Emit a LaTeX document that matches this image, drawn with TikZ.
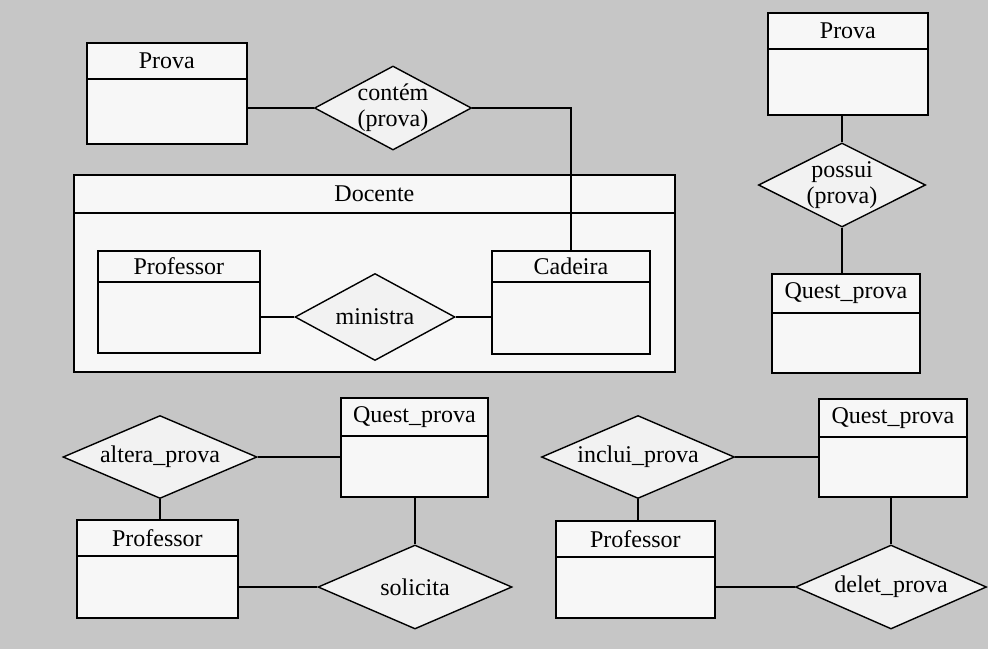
\documentclass[tikz,border=0pt]{standalone}
\usepackage{fontspec}
\setmainfont{Liberation Serif}
\usepackage{xcolor}
\usepackage{tikz}
\usetikzlibrary{shapes.geometric}

\definecolor{fundo}{RGB}{198,198,198}
\definecolor{caixa}{RGB}{247,247,247}
\definecolor{losango}{RGB}{242,242,242}

\tikzset{
  texto/.style={font=\fontsize{24}{26}\selectfont, align=center, inner sep=0pt},
  entity/.style={draw, line width=1.8pt, fill=caixa, inner sep=0pt,
    font=\fontsize{24}{26}\selectfont},
  relacao/.style={draw, diamond, line width=1.4pt, fill=losango, inner sep=0pt,
    label={[texto]center:{#1}}},
  liga/.style={line width=1.8pt}
}

% name, left, top, right, header, bottom, label
\newcommand{\entidade}[7]{%
  \node[entity, anchor=north west, minimum width={#4-#2}, minimum height={#6-#3}] (#1) at (#2,#3) {};
  \node[entity, anchor=north west, minimum width={#4-#2}, minimum height={#5-#3}] (#1-h) at (#2,#3) {#7};
}

\begin{document}
\begin{tikzpicture}[x=1pt,y=-1pt]
    \fill[fundo] (0,0) rectangle (988,649);
    \useasboundingbox (0,0) rectangle (988,649);
    % Draw the Docente aggregate
    \entidade{docente}{73}{174}{674}{212}{371}{Docente}
    \entidade{prof1}{97}{250}{259}{281}{352}{Professor}
    \entidade{cadeira}{491}{250}{649}{281}{353}{Cadeira}
    \node[relacao={ministra}, minimum width=160pt, minimum height=87pt] (ministra) at (375,317) {};
    \draw[liga] (ministra.west) -- (ministra.west -| prof1.east);
    \draw[liga] (ministra.east) -- (ministra.east -| cadeira.west);
    % Draw the top left part
    \entidade{prova1}{86}{42}{246}{78}{143}{Prova}
    \node[relacao={contém\\(prova)}, minimum width=157pt, minimum height=84pt] (contem) at (393,108) {};
    \draw[liga] (contem.west) -- (contem.west -| prova1.east);
    \draw[liga] (contem.east) -- (contem.east -| cadeira.north) -- (cadeira.north);
    % Draw the top right part
    \entidade{prova2}{767}{12}{927}{48}{114}{Prova}
    \entidade{quest1}{771}{273}{919}{312}{372}{Quest\_prova}
    \node[relacao={possui\\(prova)}, minimum width=167pt, minimum height=84pt] (possui) at (842,185) {};
    \draw[liga] (possui.north) -- (possui.north |- prova2.south);
    \draw[liga] (possui.south) -- (possui.south |- quest1.north);
    % Draw the bottom left part
    \entidade{quest2}{340}{397}{487}{435}{496}{Quest\_prova}
    \entidade{prof2}{76}{519}{237}{555}{617}{Professor}
    \node[relacao={altera\_prova}, minimum width=194pt, minimum height=83pt] (altera) at (160,457) {};
    \node[relacao={solicita}, minimum width=194pt, minimum height=84pt] (solicita) at (415,587) {};
    \draw[liga] (altera.east) -- (altera.east -| quest2.west);
    \draw[liga] (altera.south) -- (altera.south |- prof2.north);
    \draw[liga] (solicita.north) -- (solicita.north |- quest2.south);
    \draw[liga] (solicita.west) -- (solicita.west -| prof2.east);
    % Draw the bottom right part
    \entidade{quest3}{818}{398}{966}{436}{496}{Quest\_prova}
    \entidade{prof3}{555}{520}{714}{556}{617}{Professor}
    \node[relacao={inclui\_prova}, minimum width=193pt, minimum height=83pt] (inclui) at (638,457) {};
    \node[relacao={delet\_prova}, minimum width=191pt, minimum height=84pt] (delet) at (891,587) {};
    \draw[liga] (inclui.east) -- (inclui.east -| quest3.west);
    \draw[liga] (inclui.south) -- (inclui.south |- prof3.north);
    \draw[liga] (delet.north) -- (delet.north |- quest3.south);
    \draw[liga] (delet.west) -- (delet.west -| prof3.east);
\end{tikzpicture}
\end{document}
